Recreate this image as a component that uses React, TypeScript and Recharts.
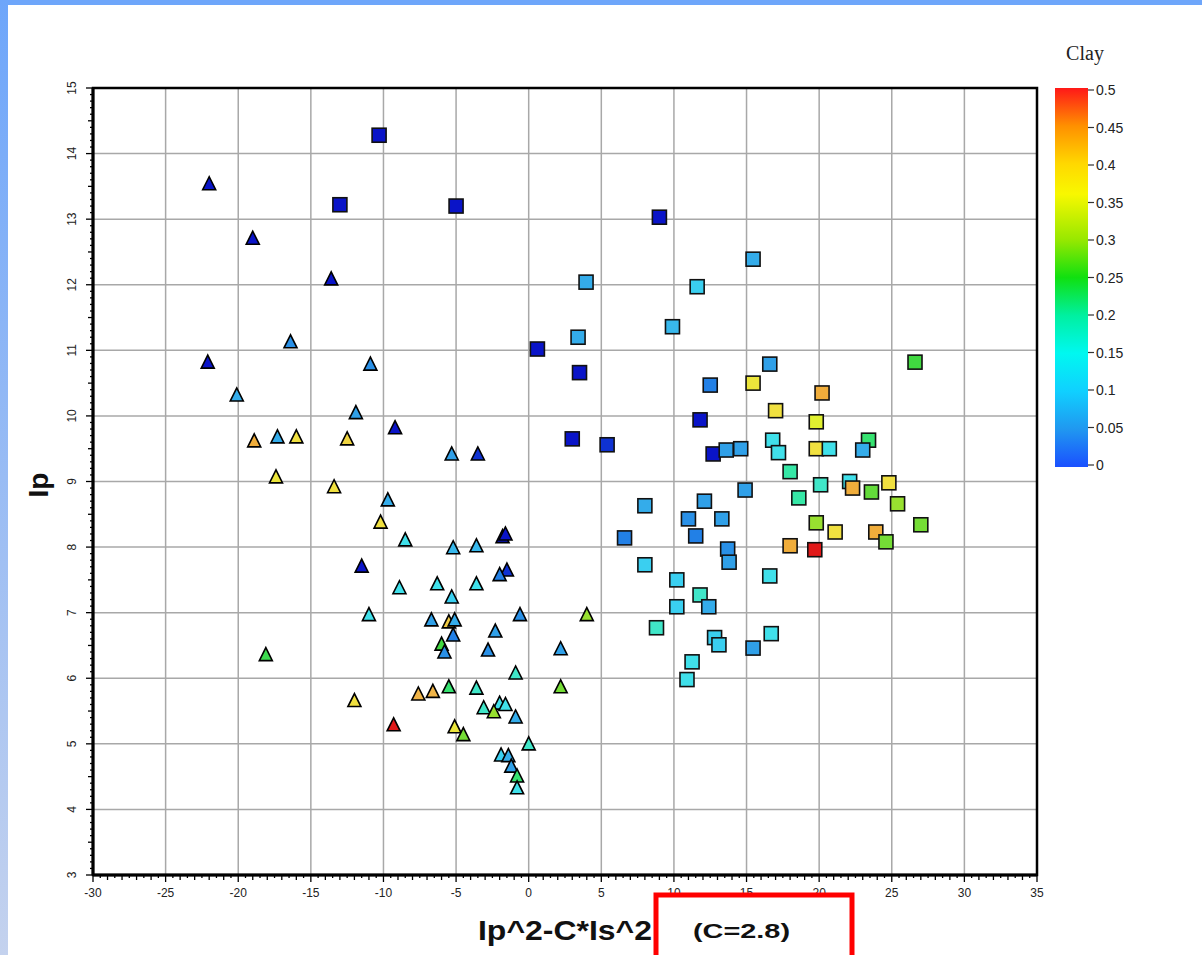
import { ScatterChart, Scatter, XAxis, YAxis, CartesianGrid, ReferenceArea } from "recharts";

// triangles
const triX = [-22, -19, -13.6, -22.1, -16.4, -10.9, -20.1, -11.9, -9.2, -18.9, -17.3, -16.0, -12.5, -5.3, -3.5, -17.4, -13.4, -9.7, -10.2, -8.5, -1.8, -5.2, -3.6, -11.5, -1.5, -2.0, -8.9, -6.3, -3.6, -5.3, -11.0, -6.7, -5.5, -5.1, -0.6, -2.3, -5.2, -6.0, -5.8, -2.8, -0.9, 2.2, 4.0, -18.1, -12.0, -7.6, -6.6, -5.5, -3.6, -3.1, -2.0, -2.4, -1.6, -0.9, 2.2, -9.3, -5.1, -4.5, 0, -1.9, -1.4, -1.2, -0.8, -0.8, -1.6];
const triY = [13.54, 12.71, 12.09, 10.82, 11.13, 10.79, 10.32, 10.05, 9.82, 9.62, 9.68, 9.68, 9.65, 9.42, 9.42, 9.07, 8.92, 8.72, 8.38, 8.11, 8.16, 7.99, 8.02, 7.71, 7.65, 7.58, 7.38, 7.44, 7.44, 7.24, 6.97, 6.89, 6.86, 6.89, 6.97, 6.72, 6.66, 6.52, 6.4, 6.43, 6.08, 6.45, 6.97, 6.36, 5.66, 5.76, 5.8, 5.87, 5.85, 5.55, 5.62, 5.49, 5.6, 5.41, 5.87, 5.29, 5.26, 5.14, 5.0, 4.83, 4.82, 4.66, 4.51, 4.33, 8.2];
const triClay = [0.0, 0.0, 0.0, 0.0, 0.05, 0.05, 0.07, 0.06, 0.0, 0.43, 0.07, 0.38, 0.39, 0.06, 0.01, 0.37, 0.38, 0.07, 0.38, 0.12, 0.0, 0.08, 0.08, 0.0, 0.01, 0.04, 0.12, 0.12, 0.12, 0.1, 0.12, 0.06, 0.4, 0.07, 0.05, 0.06, 0.04, 0.25, 0.05, 0.05, 0.15, 0.06, 0.3, 0.24, 0.38, 0.42, 0.42, 0.22, 0.15, 0.15, 0.12, 0.3, 0.12, 0.07, 0.28, 0.5, 0.37, 0.28, 0.15, 0.1, 0.07, 0.06, 0.22, 0.12, 0.0];

// squares
const sqX = [-10.3, -13, -5, 9.0, 15.45, 3.95, 11.6, 3.4, 9.9, 0.6, 3.5, 16.6, 12.5, 15.45, 26.6, 20.2, 11.8, 17.0, 19.8, 3.0, 5.4, 12.7, 13.6, 14.6, 16.8, 17.2, 19.8, 20.7, 23.4, 23.0, 18.0, 20.1, 22.1, 22.3, 24.8, 14.9, 18.6, 23.6, 25.4, 8.0, 12.1, 11.0, 13.3, 19.8, 21.1, 23.9, 27.0, 24.6, 6.6, 11.5, 18.0, 19.7, 13.7, 13.8, 8.0, 10.2, 16.6, 11.8, 10.2, 12.4, 8.8, 12.8, 13.1, 15.45, 16.7, 11.25, 10.9];
const sqY = [14.28, 13.22, 13.2, 13.03, 12.39, 12.04, 11.97, 11.2, 11.36, 11.02, 10.66, 10.79, 10.47, 10.5, 10.82, 10.35, 9.94, 10.08, 9.91, 9.65, 9.56, 9.42, 9.48, 9.5, 9.63, 9.44, 9.5, 9.5, 9.63, 9.48, 9.15, 8.95, 9.0, 8.9, 8.98, 8.87, 8.75, 8.84, 8.66, 8.63, 8.7, 8.43, 8.43, 8.37, 8.23, 8.23, 8.34, 8.08, 8.14, 8.17, 8.02, 7.96, 7.97, 7.77, 7.73, 7.5, 7.56, 7.27, 7.09, 7.09, 6.77, 6.62, 6.51, 6.46, 6.68, 6.25, 5.98];
const sqClay = [0.0, 0.0, 0.0, 0.0, 0.07, 0.07, 0.1, 0.07, 0.08, 0.0, 0.0, 0.06, 0.04, 0.37, 0.25, 0.43, 0.0, 0.38, 0.35, 0.0, 0.01, 0.0, 0.06, 0.06, 0.12, 0.12, 0.38, 0.12, 0.22, 0.07, 0.18, 0.15, 0.12, 0.43, 0.38, 0.06, 0.18, 0.27, 0.3, 0.07, 0.06, 0.05, 0.06, 0.3, 0.38, 0.43, 0.28, 0.28, 0.04, 0.04, 0.43, 0.5, 0.05, 0.06, 0.1, 0.1, 0.12, 0.15, 0.1, 0.07, 0.15, 0.1, 0.1, 0.06, 0.12, 0.12, 0.12];

const xMajor = [-30, -25, -20, -15, -10, -5, 0, 5, 10, 15, 20, 25, 30, 35];
const yMajor = [3, 4, 5, 6, 7, 8, 9, 10, 11, 12, 13, 14, 15];
const clayTicks = [0, 0.05, 0.1, 0.15, 0.2, 0.25, 0.3, 0.35, 0.4, 0.45, 0.5];

const W = 1202;
const H = 955;
const PLOT_L = 93;
const PLOT_R = 1037;
const PLOT_T = 88;
const PLOT_B = 875;

const xMinor: number[] = [];
for (let i = -60; i <= 70; i++) xMinor.push(i / 2);
const yMinor: number[] = [];
for (let i = 30; i <= 150; i++) yMinor.push(i / 10);

const markerStops: [number, string][] = [
  [0.0, "#0a14c8"], [0.02, "#1450dc"], [0.04, "#2280e6"], [0.06, "#30a0e8"],
  [0.08, "#38b8ec"], [0.1, "#3acff0"], [0.12, "#40e0ea"], [0.15, "#40e6c8"],
  [0.2, "#30e890"], [0.25, "#40d840"], [0.3, "#98e030"], [0.35, "#e0f030"],
  [0.38, "#f0e040"], [0.42, "#f0b448"], [0.45, "#f0a020"], [0.5, "#e01818"],
];

function hex(c: string) {
  return [1, 3, 5].map((i) => parseInt(c.slice(i, i + 2), 16));
}

function clayColor(v: number) {
  for (let i = 1; i < markerStops.length; i++) {
    const [v1, c1] = markerStops[i];
    const [v0, c0] = markerStops[i - 1];
    if (v <= v1) {
      const t = (v - v0) / (v1 - v0);
      const a = hex(c0), b = hex(c1);
      const m = a.map((x, k) => Math.round(x + (b[k] - x) * t));
      return `rgb(${m[0]},${m[1]},${m[2]})`;
    }
  }
  return markerStops[markerStops.length - 1][1];
}

const triData = triX.map((x, i) => ({ x, y: triY[i], clay: triClay[i] }));
const sqData = sqX.map((x, i) => ({ x, y: sqY[i], clay: sqClay[i] }));

const Triangle = (props: any) => {
  const { cx, cy, payload } = props;
  const w = 13, h = 12;
  return (
    <polygon
      points={`${cx},${cy - h / 2 - 1} ${cx - w / 2},${cy + h / 2} ${cx + w / 2},${cy + h / 2}`}
      fill={clayColor(payload.clay)}
      stroke="#000"
      strokeWidth={1.6}
    />
  );
};

const Square = (props: any) => {
  const { cx, cy, payload } = props;
  const s = 14;
  return (
    <rect x={cx - s / 2} y={cy - s / 2} width={s} height={s}
      fill={clayColor(payload.clay)} stroke="#111" strokeWidth={1.6} />
  );
};

const isMajor = (v: number) => Math.abs(v - Math.round(v)) < 1e-6;

const XTick = (props: any) => {
  const { x, payload } = props;
  const v = payload.value;
  const major = isMajor(v) && Math.round(v) % 5 === 0;
  const len = major ? 7 : isMajor(v) ? 5 : 3;
  return (
    <g>
      <line x1={x} x2={x} y1={PLOT_B} y2={PLOT_B + len} stroke="#000" strokeWidth={1.3} />
      {major && (
        <text x={x} y={PLOT_B + 22} textAnchor="middle" fontSize={12}
          fontFamily="'Liberation Sans Narrow', 'Liberation Sans', Arial" fill="#222">
          {Math.round(v)}
        </text>
      )}
    </g>
  );
};

const YTick = (props: any) => {
  const { y, payload } = props;
  const v = payload.value;
  const tenth = Math.round(v * 10);
  const major = tenth % 10 === 0;
  const len = major ? 7 : tenth % 5 === 0 ? 5 : 3;
  const lx = 72;
  return (
    <g>
      <line x1={PLOT_L - len} x2={PLOT_L} y1={y} y2={y} stroke="#000" strokeWidth={1.3} />
      {major && (
        <text x={lx} y={y} textAnchor="middle" dominantBaseline="central" fontSize={12}
          fontFamily="'Liberation Sans Narrow', 'Liberation Sans', Arial" fill="#222"
          transform={`rotate(-90, ${lx}, ${y})`}>
          {Math.round(v)}
        </text>
      )}
    </g>
  );
};

const BAR_X = 1055;
const BAR_W = 33;
const BAR_TOP = 90;
const BAR_BOT = 465;

export default function App() {
  const barY = (v: number) => BAR_BOT - (v / 0.5) * (BAR_BOT - BAR_TOP);
  return (
    <div style={{ position: "absolute", left: 0, top: 0, width: W, height: H, background: "#fff", overflow: "hidden" }}>
      <div style={{ position: "absolute", left: 0, top: 0, width: W, height: 5, background: "#6ea6fa" }} />
      <div style={{ position: "absolute", left: 0, top: 0, width: 8, height: H, background: "linear-gradient(#6ea6fa, #c4d2ee)" }} />

      <div style={{ position: "absolute", left: 0, top: 0 }}>
        <ScatterChart width={W} height={H} margin={{ top: PLOT_T, right: W - PLOT_R, bottom: H - PLOT_B - 30, left: PLOT_L - 40 }}>
          <XAxis xAxisId="g" dataKey="x" type="number" domain={[-30, 35]} ticks={xMajor} hide allowDataOverflow />
          <YAxis yAxisId="g" dataKey="y" type="number" domain={[3, 15]} ticks={yMajor} hide allowDataOverflow />
          <CartesianGrid xAxisId="g" yAxisId="g" stroke="#a8a8a8" strokeWidth={1.5} />
          <XAxis dataKey="x" type="number" domain={[-30, 35]} ticks={xMinor} interval={0} height={30}
            tick={<XTick />} tickLine={false} axisLine={{ stroke: "#000", strokeWidth: 3 }} allowDataOverflow />
          <YAxis dataKey="y" type="number" domain={[3, 15]} ticks={yMinor} interval={0} width={40}
            tick={<YTick />} tickLine={false} axisLine={{ stroke: "#000", strokeWidth: 3 }} allowDataOverflow />
          <ReferenceArea x1={-30} x2={35} y1={3} y2={15} fill="none" fillOpacity={0} stroke="#000" strokeWidth={2.5} />
          <Scatter data={triData} shape={<Triangle />} isAnimationActive={false} />
          <Scatter data={sqData} shape={<Square />} isAnimationActive={false} />
        </ScatterChart>
      </div>

      <svg width={W} height={H} style={{ position: "absolute", left: 0, top: 0, pointerEvents: "none" }}>
        <defs>
          <linearGradient id="clay" x1="0" y1="1" x2="0" y2="0">
            <stop offset="0" stopColor="#1a50ff" />
            <stop offset="0.1" stopColor="#2098f0" />
            <stop offset="0.2" stopColor="#10d0ff" />
            <stop offset="0.3" stopColor="#00f8f0" />
            <stop offset="0.4" stopColor="#00f0a0" />
            <stop offset="0.5" stopColor="#10e010" />
            <stop offset="0.6" stopColor="#98e800" />
            <stop offset="0.72" stopColor="#f8f800" />
            <stop offset="0.8" stopColor="#ffd800" />
            <stop offset="0.9" stopColor="#ff9000" />
            <stop offset="1" stopColor="#ff1818" />
          </linearGradient>
        </defs>
        <text x={1085} y={60} textAnchor="middle" fontSize={20} fontFamily="'Liberation Serif', serif" fill="#222">Clay</text>
        <rect x={BAR_X} y={BAR_TOP - 2} width={BAR_W} height={BAR_BOT - BAR_TOP + 4} fill="url(#clay)" />
        {clayTicks.map((v) => (
          <g key={v}>
            <line x1={BAR_X + BAR_W} x2={BAR_X + BAR_W + 6} y1={barY(v)} y2={barY(v)} stroke="#333" strokeWidth={1.2} />
            <text x={BAR_X + BAR_W + 8} y={barY(v)} dominantBaseline="central" fontSize={14}
              fontFamily="'Liberation Sans', Arial" fill="#222">{v}</text>
          </g>
        ))}
        <text x={38} y={485} textAnchor="middle" dominantBaseline="central" fontSize={28} fontWeight="bold"
          fontFamily="'Liberation Sans', Arial" transform="rotate(-90, 38, 485)" fill="#111">Ip</text>
        <text x={478} y={940} fontSize={28} fontWeight="bold" textLength={174} lengthAdjust="spacingAndGlyphs"
          fontFamily="'Liberation Sans Narrow', 'Liberation Sans', Arial" fill="#111">Ip^2-C*Is^2</text>
        <rect x={656} y={895} width={196} height={70} fill="none" stroke="#ff0000" strokeWidth={5} />
        <text x={693} y={938} fontSize={20} fontWeight="bold" textLength={97} lengthAdjust="spacingAndGlyphs"
          fontFamily="'Liberation Sans', Arial" fill="#111">(C=2.8)</text>
      </svg>
    </div>
  );
}
